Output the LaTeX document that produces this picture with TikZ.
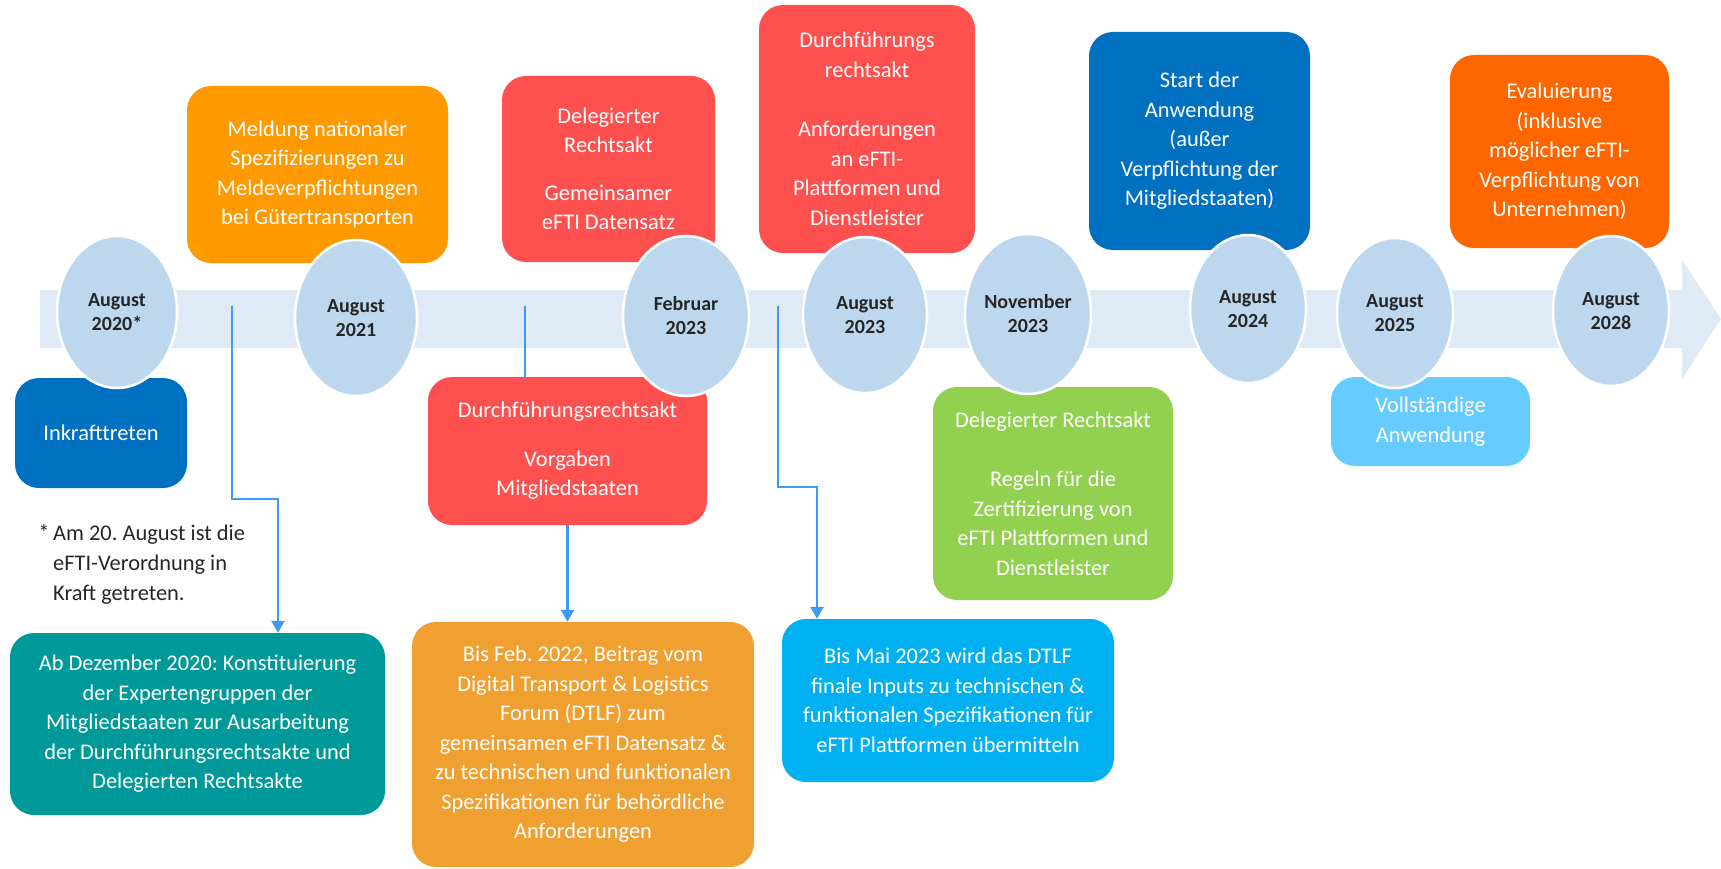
\documentclass[tikz,border=0pt]{standalone}
\usepackage{fontspec}
\setmainfont{Carlito}
\usepackage{xcolor}
\usepackage{tikz}
\usetikzlibrary{arrows.meta,shapes.geometric}
\frenchspacing

\definecolor{bandblue}{HTML}{DEEBF7}
\definecolor{dateblue}{HTML}{BDD7EE}
\definecolor{datetext}{HTML}{262626}
\definecolor{boxorange}{HTML}{FF9900}
\definecolor{boxred}{HTML}{FF5050}
\definecolor{boxnavy}{HTML}{0070C0}
\definecolor{boxdeeporange}{HTML}{FF6600}
\definecolor{boxgreen}{HTML}{92D050}
\definecolor{boxsky}{HTML}{66CCFF}
\definecolor{boxcyan}{HTML}{00B0F0}
\definecolor{boxteal}{HTML}{009999}
\definecolor{boxamber}{HTML}{F0A030}
\definecolor{linkblue}{HTML}{3D9BF5}

\begin{document}
\begin{tikzpicture}[
    x=1pt, y=-1pt,
    box/.style={fill=#1, rounded corners=24pt, inner sep=0pt, align=center, text=white, font=\fontsize{22.4}{29.5}\selectfont},
    date/.style={ellipse, fill=dateblue, draw=white, line width=2.5pt, inner sep=0pt, align=center, text=datetext, font=\bfseries\fontsize{20}{24}\selectfont},
    arr/.style={-{Triangle[width=13pt,length=12pt]}, line width=2.5pt, draw=linkblue},
    link/.style={line width=2.5pt, draw=linkblue}
]
\useasboundingbox (0,0) rectangle (1721,869);

% timeline band
\fill[bandblue] (40,290) rectangle (1682,348);
\fill[bandblue] (1682,260) -- (1721,319) -- (1682,379) -- cycle;

% boxes above the band
\node[box=boxorange, minimum width=261pt, minimum height=177pt] (meldung) at (317.5,174.5) {Meldung nationaler\\Spezifizierungen zu\\Meldeverpflichtungen\\bei Gütertransporten};
\node[box=boxred, minimum width=213pt, minimum height=186pt] (delegA) at (608.5,169) {Delegierter\\Rechtsakt\\[18pt]Gemeinsamer\\eFTI Datensatz};
\node[box=boxred, minimum width=216pt, minimum height=248pt] (durchB) at (867,129) {Durchführungs\\rechtsakt\\[30pt]Anforderungen\\an eFTI-\\Plattformen und\\Dienstleister};
\node[box=boxnavy, minimum width=221pt, minimum height=218pt] (start) at (1199.5,141) {Start der\\Anwendung\\(außer\\Verpflichtung der\\Mitgliedstaaten)};
\node[box=boxdeeporange, minimum width=219pt, minimum height=193pt] (eval) at (1559.5,151.5) {Evaluierung\\(inklusive\\möglicher eFTI-\\Verpflichtung von\\Unternehmen)};

% boxes below the band
\node[box=boxnavy, minimum width=172pt, minimum height=110pt] (inkraft) at (101,433) {Inkrafttreten};
\node[box=boxred, minimum width=279pt, minimum height=148pt] (durchA) at (567.5,451) {Durchführungsrechtsakt\\[19pt]Vorgaben\\Mitgliedstaaten};
\node[box=boxgreen, minimum width=240pt, minimum height=213pt] (delegB) at (1053,493.5) {Delegierter Rechtsakt\\[30pt]Regeln für die\\Zertifizierung von\\eFTI Plattformen und\\Dienstleister};
\node[box=boxsky, minimum width=199pt, minimum height=89pt] (voll) at (1430.5,421.5) {Vollständige\\Anwendung};
\node[box=boxteal, minimum width=375pt, minimum height=182pt] (abdez) at (197.5,724) {Ab Dezember 2020: Konstituierung\\der Expertengruppen der\\Mitgliedstaaten zur Ausarbeitung\\der Durchführungsrechtsakte und\\Delegierten Rechtsakte};
\node[box=boxamber, minimum width=342pt, minimum height=245pt] (bisfeb) at (583,744.5) {Bis Feb. 2022, Beitrag vom\\Digital Transport \& Logistics\\Forum (DTLF) zum\\gemeinsamen eFTI Datensatz \&\\zu technischen und funktionalen\\Spezifikationen für behördliche\\Anforderungen};
\node[box=boxcyan, minimum width=332pt, minimum height=163pt] (bismai) at (948,700.5) {Bis Mai 2023 wird das DTLF\\finale Inputs zu technischen \&\\funktionalen Spezifikationen für\\eFTI Plattformen übermitteln};

% footnote
\node[anchor=north west, inner sep=0pt, align=left, text=datetext, font=\fontsize{22.4}{30}\selectfont] (note) at (53,524) {\llap{*\,}Am 20. August ist die\\eFTI-Verordnung in\\Kraft getreten.};

% dates
\node[date, minimum width=120pt, minimum height=152pt] (d2020) at (117,312) {August\\2020*};
\node[date, minimum width=122pt, minimum height=156pt] (d2021) at (356,318) {August\\2021};
\node[date, minimum width=126pt, minimum height=160pt] (d2023f) at (686,316) {Februar\\2023};
\node[date, minimum width=124pt, minimum height=156pt] (d2023a) at (865,315) {August\\2023};
\node[date, minimum width=126pt, minimum height=160pt] (d2023n) at (1028,314) {November\\2023};
\node[date, minimum width=116pt, minimum height=148pt] (d2024) at (1248,309) {August\\2024};
\node[date, minimum width=116pt, minimum height=150pt] (d2025) at (1395,313) {August\\2025};
\node[date, minimum width=116pt, minimum height=150pt] (d2028) at (1611,311) {August\\2028};

% connectors
\coordinate (s1) at (232,306);
\coordinate (s2) at (525,306);
\coordinate (s3) at (778,306);
\draw[arr] (s1) -- ++(0,193) -| ([xshift=80.5pt]abdez.north);
\draw[link] (s2) -- (s2 |- durchA.north);
\draw[arr] (durchA.south) -- (durchA.south |- bisfeb.north);
\draw[arr] (s3) -- ++(0,181) -| ([xshift=-131pt]bismai.north);
\end{tikzpicture}
\end{document}
